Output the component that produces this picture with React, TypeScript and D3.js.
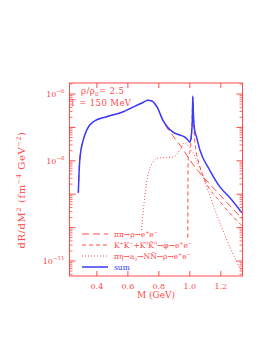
import React from 'react';
import * as d3 from 'd3';

// invariant mass M (GeV) and rate dR/dM^2 (fm^-4 GeV^-2)
const sumM = [0.280, 0.284, 0.291, 0.312, 0.334, 0.377, 0.463, 0.570, 0.633, 0.691, 0.729, 0.755, 0.788, 0.826, 0.891, 0.936, 0.968, 0.987, 1.000, 1.008, 1.016, 1.019, 1.023, 1.030, 1.044, 1.065, 1.129, 1.194, 1.259, 1.336];
const sumR = [1.1e-9, 3.7e-9, 1.29e-8, 4.2e-8, 8.3e-8, 1.48e-7, 2.09e-7, 2.95e-7, 4.07e-7, 5.4e-7, 6.5e-7, 6.2e-7, 4.1e-7, 1.66e-7, 7.2e-8, 5.9e-8, 5.1e-8, 4.2e-8, 3.6e-8, 5.0e-8, 1.58e-7, 8.7e-7, 2.5e-7, 8.9e-8, 5.0e-8, 2.1e-8, 5.2e-9, 1.66e-9, 7.8e-10, 2.75e-10];

const rhoM = [0.280, 0.284, 0.291, 0.312, 0.334, 0.377, 0.463, 0.570, 0.633, 0.691, 0.729, 0.755, 0.788, 0.826, 0.891, 0.950, 1.000, 1.050, 1.100, 1.200, 1.340];
const rhoR = [1.1e-9, 3.7e-9, 1.29e-8, 4.2e-8, 8.3e-8, 1.48e-7, 2.09e-7, 2.95e-7, 4.07e-7, 5.4e-7, 6.5e-7, 6.2e-7, 4.1e-7, 1.58e-7, 5.6e-8, 2.4e-8, 1.05e-8, 5.2e-9, 2.8e-9, 8.9e-10, 1.78e-10];

const phiM = [0.987, 0.988, 0.990, 1.000, 1.008, 1.014, 1.019, 1.024, 1.030, 1.040, 1.060, 1.100, 1.200, 1.340];
const phiR = [5e-11, 4e-9, 1.3e-8, 1.8e-8, 4e-8, 1.3e-7, 8e-7, 1.6e-7, 5e-8, 2e-8, 8e-9, 2.5e-9, 5.6e-10, 1.1e-10];

const a0M = [0.687, 0.700, 0.710, 0.742, 0.794, 0.850, 0.891, 0.936, 0.965, 0.990, 1.020, 1.108, 1.194, 1.259, 1.323, 1.340];
const a0R = [8.5e-11, 3.2e-10, 9.5e-10, 6e-9, 1.2e-8, 1.26e-8, 1.29e-8, 2.1e-8, 3.5e-8, 2.8e-8, 1.8e-8, 1.66e-9, 1.38e-10, 2.6e-11, 6.2e-12, 4.5e-12];

const xTicks = [0.4, 0.6, 0.8, 1.0, 1.2];
const yLabelExps = [-6, -8, -11];

const RED = '#ff4a4a';
const BLUE = '#3a3aff';
const FONT = '"DejaVu Serif", serif';

type Part = [string, 'n' | 'sup' | 'sub'];

const legendItems: { parts: Part[]; dash: string; color: string; width: number }[] = [
  { parts: [['ππ→ρ→e', 'n'], ['+', 'sup'], ['e', 'n'], ['−', 'sup']], dash: '7,4', color: RED, width: 1 },
  { parts: [['K', 'n'], ['+', 'sup'], ['K', 'n'], ['−', 'sup'], ['+K', 'n'], ['0', 'sup'], ['K̄', 'n'], ['0', 'sup'], ['→φ→e', 'n'], ['+', 'sup'], ['e', 'n'], ['−', 'sup']], dash: '4,3', color: RED, width: 1 },
  { parts: [['πη→a', 'n'], ['0', 'sub'], ['→NN̄→ρ→e', 'n'], ['+', 'sup'], ['e', 'n'], ['−', 'sup']], dash: '1,2', color: RED, width: 1 },
  { parts: [['sum', 'n']], dash: '', color: BLUE, width: 1.5 },
];

function RichText({ parts, x, y, size, fill, anchor = 'start', spacing = 0 }: { parts: Part[]; x: number; y: number; size: number; fill: string; anchor?: string; spacing?: number }) {
  let prev: 'n' | 'sup' | 'sub' = 'n';
  const lvl = (k: string) => (k === 'sup' ? -0.4 : k === 'sub' ? 0.25 : 0);
  return (
    <text x={x} y={y} fontSize={size} fill={fill} fontFamily={FONT} textAnchor={anchor} letterSpacing={spacing}>
      {parts.map(([t, k], i) => {
        const off = lvl(k) - lvl(prev);
        prev = k;
        return (
          <tspan key={i} dy={off * size} fontSize={k === 'n' ? size : size * 0.65}>{t}</tspan>
        );
      })}
    </text>
  );
}

export default function App() {
  const W = 273, H = 353;
  const x = d3.scaleLinear().domain([0.223, 1.34]).range([69.5, 242.5]);
  const y = d3.scaleLog().domain([Math.pow(10, -11.45), Math.pow(10, -5.67)]).range([276, 83]);
  const [x0, x1] = x.range();
  const [y0, y1] = [276, 83];

  const mk = (ms: number[], rs: number[]) =>
    d3.line<number>().x((_, i) => x(ms[i])).y((_, i) => y(rs[i])).curve(d3.curveMonotoneX)(ms) || '';

  const majors: number[] = [];
  const minors: number[] = [];
  for (let e = -12; e <= -5; e++) {
    for (let k = 1; k <= 9; k++) {
      const v = k * Math.pow(10, e);
      const p = y(v);
      if (p < y1 || p > y0) continue;
      (k === 1 ? majors : minors).push(v);
    }
  }

  return (
    <svg width={W} height={H} style={{ position: 'absolute', left: 0, top: 0, background: '#fff' }}>
      <defs>
        <clipPath id="plot">
          <rect x={x0} y={y1} width={x1 - x0} height={y0 - y1} />
        </clipPath>
      </defs>

      {/* curves */}
      <g clipPath="url(#plot)" fill="none">
        <path d={mk(a0M, a0R)} stroke={RED} strokeWidth={1} strokeDasharray="1,2" />
        <path d={mk(phiM, phiR)} stroke={RED} strokeWidth={1} strokeDasharray="4,3" />
        <path d={mk(rhoM, rhoR)} stroke={RED} strokeWidth={1} strokeDasharray="7,4" />
        <path d={mk(sumM, sumR)} stroke={BLUE} strokeWidth={1.5} />
      </g>

      {/* frame */}
      <rect x={x0} y={y1} width={x1 - x0} height={y0 - y1} fill="none" stroke={RED} strokeWidth={1} />

      {/* x ticks */}
      {xTicks.map(t => (
        <g key={t}>
          <line x1={x(t)} x2={x(t)} y1={y0} y2={y0 - 5} stroke={RED} />
          <line x1={x(t)} x2={x(t)} y1={y1} y2={y1 + 5} stroke={RED} />
          <text x={x(t)} y={y0 + 13} textAnchor="middle" fontSize={8} fill={RED} fontFamily={FONT}>{t.toFixed(1)}</text>
        </g>
      ))}

      {/* y ticks */}
      {majors.map(v => (
        <g key={'M' + v}>
          <line x1={x0} x2={x0 + 6} y1={y(v)} y2={y(v)} stroke={RED} />
          <line x1={x1} x2={x1 - 6} y1={y(v)} y2={y(v)} stroke={RED} />
        </g>
      ))}
      {minors.map(v => (
        <g key={'m' + v}>
          <line x1={x0} x2={x0 + 3} y1={y(v)} y2={y(v)} stroke={RED} strokeWidth={0.8} />
          <line x1={x1} x2={x1 - 3} y1={y(v)} y2={y(v)} stroke={RED} strokeWidth={0.8} />
        </g>
      ))}
      {yLabelExps.map(e => (
        <text key={e} x={x0 - 5} y={y(Math.pow(10, e)) + 3} textAnchor="end" fontSize={8} fill={RED} fontFamily={FONT}>
          10<tspan dy={-4} fontSize={5.5}>{'−' + Math.abs(e)}</tspan>
        </text>
      ))}

      {/* axis titles */}
      <text x={156} y={298} textAnchor="middle" fontSize={9} fill={RED} fontFamily={FONT}>M  (GeV)</text>
      <g transform="translate(25,190) rotate(-90)">
        <RichText
          parts={[['dR/dM', 'n'], ['2', 'sup'], ['  (fm', 'n'], ['−4', 'sup'], [' GeV', 'n'], ['−2', 'sup'], [')', 'n']]}
          x={0} y={0} size={10} fill={RED} anchor="middle" spacing={0.6}
        />
      </g>

      {/* annotations */}
      <RichText parts={[['ρ/ρ', 'n'], ['0', 'sub'], ['= 2.5', 'n']]} x={81} y={94} size={8.5} fill={RED} spacing={0.4} />
      <text x={70} y={106} fontSize={8.5} fill={RED} fontFamily={FONT} letterSpacing={0.4}>T = 150 MeV</text>

      {/* legend */}
      {legendItems.map((it, i) => {
        const ly = 234 + i * 11;
        return (
          <g key={i}>
            <line x1={82} x2={108} y1={ly} y2={ly} stroke={it.color} strokeWidth={it.width} strokeDasharray={it.dash || undefined} />
            <RichText parts={it.parts} x={114} y={ly + 3} size={7.5} fill={it.color} />
          </g>
        );
      })}
    </svg>
  );
}
